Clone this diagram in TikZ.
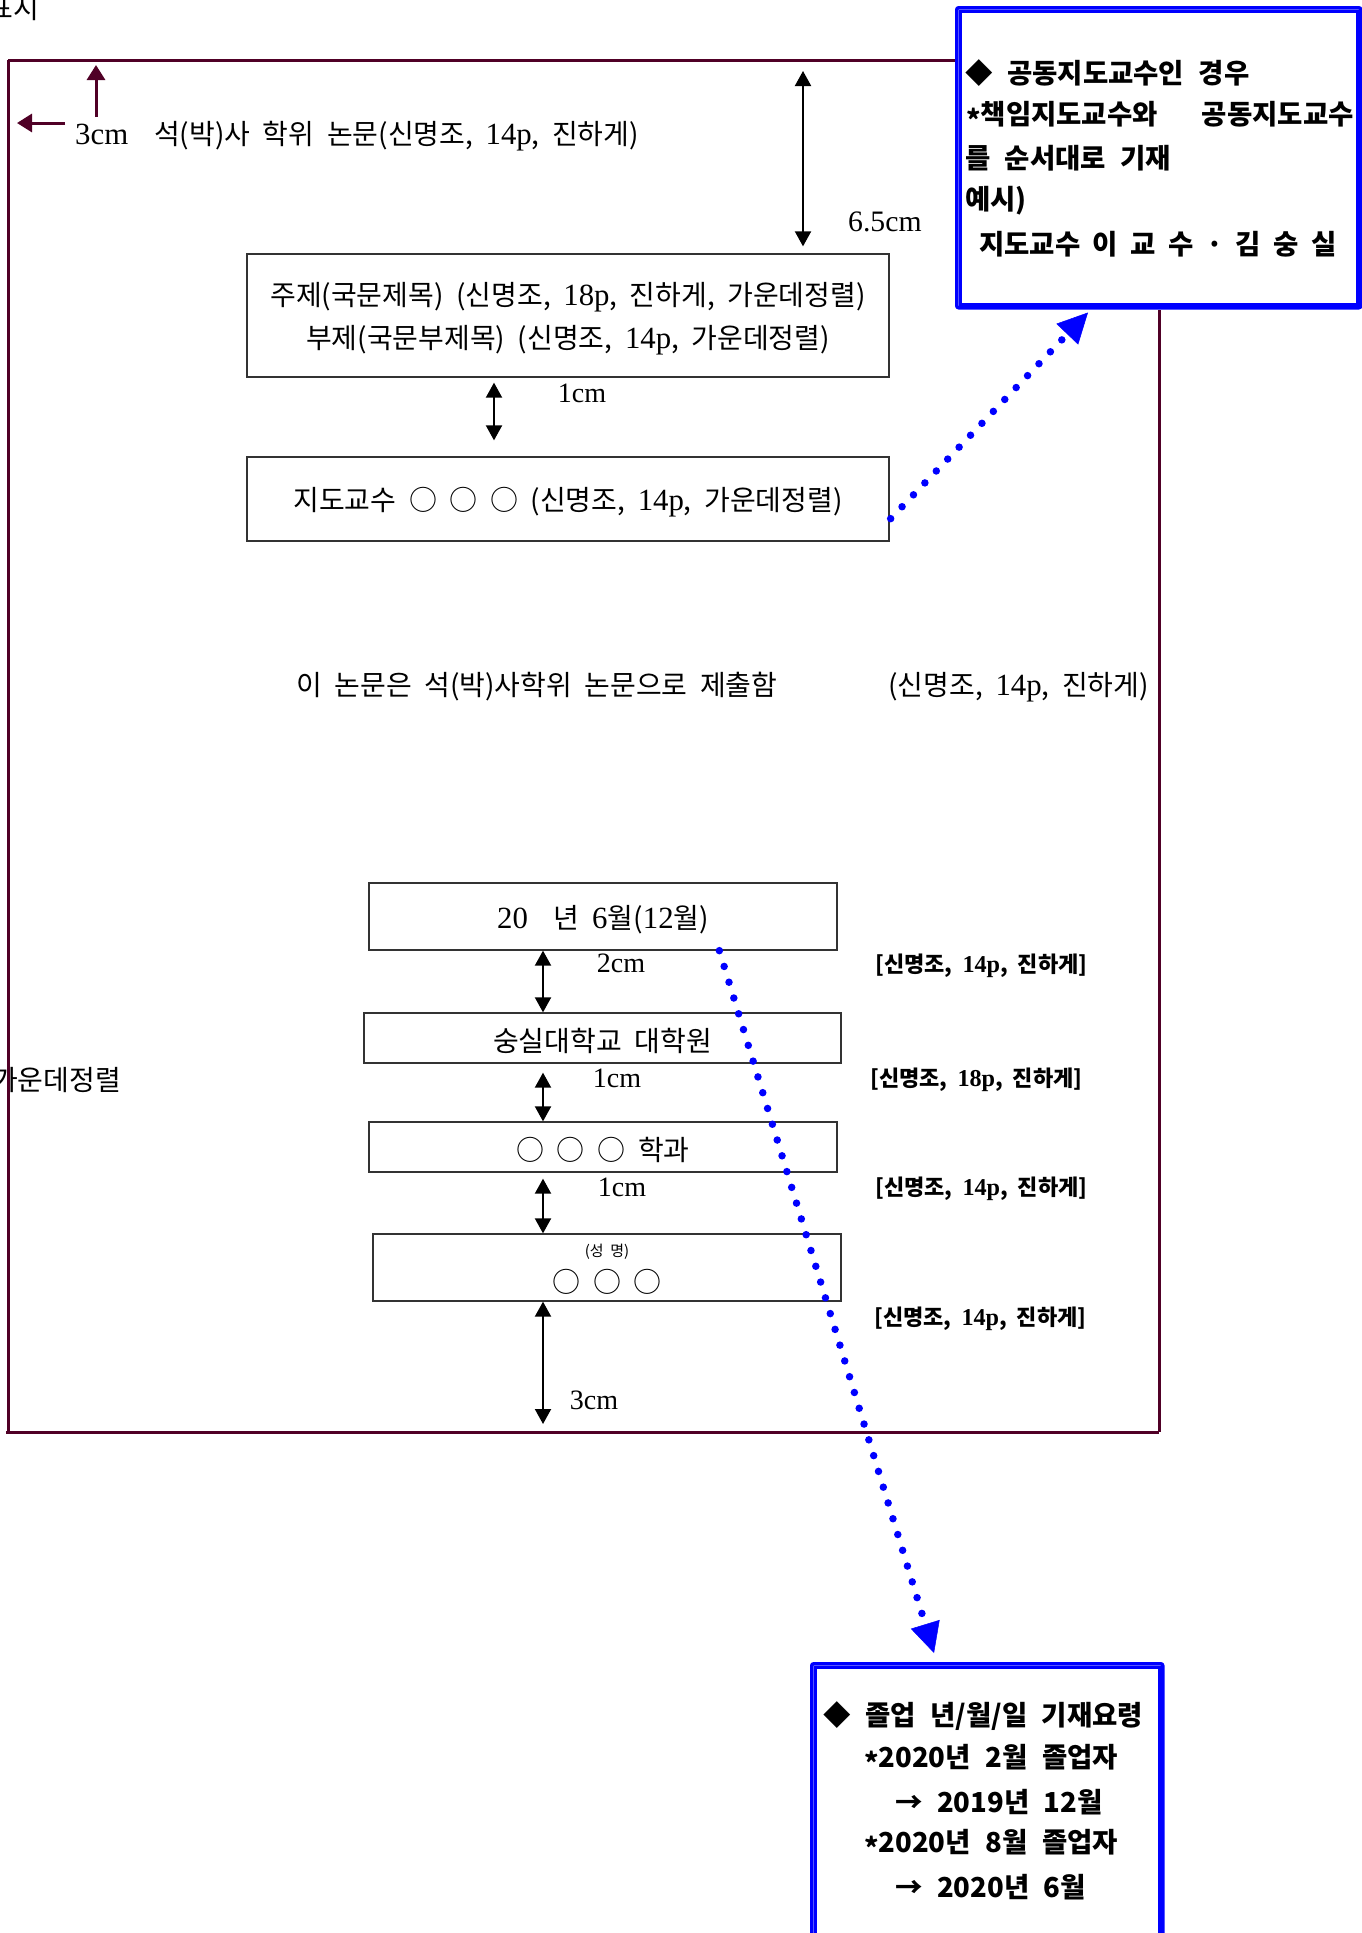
\documentclass[tikz,border=0pt]{standalone}
\usepackage{fontspec}
\setmainfont{Noto Sans CJK KR}[WordSpace=2]
\newfontfamily\bxf{Noto Sans CJK KR}[WordSpace=2.3]
\newfontfamily\lat{Liberation Serif}[Scale=1.1]
\usetikzlibrary{arrows.meta,calc}
\definecolor{framec}{RGB}{80,0,38}
\definecolor{boxblue}{RGB}{0,0,255}
\newcommand{\mt}{\fontsize{28}{43}\selectfont}
\newcommand{\astk}{\raisebox{-0.22em}{*}}
\newcommand{\gp}{\hspace{12.5pt}}
\begin{document}
\begin{tikzpicture}[x=1pt,y=-1pt,
  txt/.style={inner sep=0pt, font=\mt},
  lbl/.style={inner sep=0pt, font=\fontsize{25.5}{30}\selectfont\lat},
  tag/.style={inner sep=0pt, anchor=west, font=\fontsize{22}{26}\selectfont\bfseries},
  pbox/.style={draw=black!80, line width=1.3pt, inner sep=0pt},
  dim/.style={line width=2pt, {Triangle[length=15pt,width=16pt]}-{Triangle[length=15pt,width=16pt]}},
  mar/.style={framec, line width=3pt},
  marrow/.style={framec, line width=3pt, -{Triangle[length=15pt,width=18pt]}},
  dots/.style={boxblue, line width=7.5pt, dash pattern=on 0pt off 16.5pt, line cap=round, -{Triangle[length=30pt,width=30pt,line width=0.5pt]}},
  bout/.style={draw=boxblue, line width=3.5pt, rounded corners=2pt, inner sep=0pt},
  bin/.style={draw=boxblue, line width=3pt},
  btxt/.style={inner sep=0pt, anchor=west, font=\fontsize{27.5}{30}\selectfont\bxf\bfseries},
]
\useasboundingbox (0,0) rectangle (1361,1933);

% cut-off texts at the left
\node[txt, anchor=east] (pyo) at (39,8) {표시};
\node[txt, anchor=east] (gu) at (121,1080) {가운데정렬};

% page frame
\coordinate (fTL) at (8,60);
\coordinate (fBL) at (8,1432);
\coordinate (fBR) at (1159,1432);

% blue boxes
\node[bout, minimum width=404pt, minimum height=300pt, anchor=north west] (tbox) at (955,6) {};
\draw[bin] ([xshift=5.5pt,yshift=-5.5pt]tbox.north west) rectangle ([xshift=-5.5pt,yshift=5.5pt]tbox.south east);
\node[bout, minimum width=351pt, minimum height=275pt, anchor=north west] (bbox) at (810,1662) {};
\draw[bin] ([xshift=5.5pt,yshift=-5.5pt]bbox.north west) rectangle ([xshift=-5.5pt,yshift=5.5pt]bbox.south east);

\draw[mar] (fTL) -- (fTL -| tbox.west);
\draw[mar] (fTL) -- (fBL);
\draw[mar] ([xshift=-2pt]fBL) -- (fBR);
\draw[mar] (fBR) -- (fBR |- tbox.south);

% margin arrows
\coordinate (ua1) at (96,117);
\coordinate (ua2) at (96,65);
\coordinate (la1) at (65,123);
\coordinate (la2) at (17,123);
\draw[marrow] (ua1) -- (ua2);
\draw[marrow] (la1) -- (la2);
\node[txt, anchor=west] (top) at (75,136) {{\lat 3cm}\hspace{26pt}석(박)사 학위 논문(신명조, {\lat 14p}, 진하게)};

% title boxes
\node[pbox, minimum width=642pt, minimum height=123pt] (box1) at (568,315.5) {};
\node[txt, align=center] (box1t) at ([yshift=-3pt]box1.center)
  {주제(국문제목) (신명조, {\lat 18p}, 진하게, 가운데정렬)\\부제(국문부제목) (신명조, {\lat 14p}, 가운데정렬)};
\node[pbox, minimum width=642pt, minimum height=84pt] (box2) at (568,499) {};
\node[txt] (box2t) at ([yshift=-3pt]box2.center) {지도교수 ○ ○ ○ (신명조, {\lat 14p}, 가운데정렬)};

\coordinate (c65) at (803,71);
\draw[dim] (c65) -- ([yshift=7pt]box1.north -| c65);
\node[lbl, anchor=west, font=\fontsize{27}{30}\selectfont\lat] (l65) at (848,222) {6.5cm};

\coordinate (bx) at (494,0);
\draw[dim] ([yshift=-5pt]box1.south -| bx) -- ([yshift=16pt]box2.north -| bx);
\node[lbl] (l1a) at (582,393) {1cm};

\node[txt, anchor=west] (sub) at (296,687) {이 논문은 석(박)사학위 논문으로 제출함};
\node[txt, anchor=east] (subf) at (1149,687) {(신명조, {\lat 14p}, 진하게)};

% lower boxes
\node[pbox, minimum width=468pt, minimum height=67pt] (box3) at (603,916.5) {};
\node[txt] (box3t) at ([yshift=-3pt]box3.center) {{\lat 20}\hspace{26pt}년 {\lat 6}월({\lat 12}월)};
\node[pbox, minimum width=477pt, minimum height=50pt] (box4) at (602.5,1038) {};
\node[txt] (box4t) at ([yshift=-3pt]box4.center) {숭실대학교 대학원};
\node[pbox, minimum width=468pt, minimum height=50pt] (box5) at (603,1147) {};
\node[txt] (box5t) at ([yshift=-3pt]box5.center) {○ ○ ○ 학과};
\node[pbox, minimum width=468pt, minimum height=67pt] (box6) at (607,1267.5) {};
\node[inner sep=0pt, font=\fontsize{15}{17}\selectfont] (sm) at ([yshift=16pt]box6.center) {(성 명)};
\node[txt] (nm) at ([yshift=-14pt]box6.center) {○ ○ ○};

\coordinate (ax) at (543,0);
\coordinate (fb) at (543,1424);
\draw[dim] (box3.south -| ax) -- (box4.north -| ax);
\draw[dim] ([yshift=-9pt]box4.south -| ax) -- (box5.north -| ax);
\draw[dim] ([yshift=-6pt]box5.south -| ax) -- (box6.north -| ax);
\draw[dim] (box6.south -| ax) -- (fb);
\node[lbl] (l2) at (621,963) {2cm};
\node[lbl] (l1b) at (617,1078) {1cm};
\node[lbl] (l1c) at (622,1187) {1cm};
\node[lbl] (l3) at (594,1400) {3cm};

\node[tag] (g1) at (875,966) {[신명조, {\lat 14p}, 진하게]};
\node[tag] (g2) at (870,1080) {[신명조, {\lat 18p}, 진하게]};
\node[tag] (g3) at (875,1189) {[신명조, {\lat 14p}, 진하게]};
\node[tag] (g4) at (874,1319) {[신명조, {\lat 14p}, 진하게]};

% blue box texts
\node[btxt] (t1) at (965,73) {◆ 공동지도교수인 경우};
\node[btxt] (t2) at (966,116) {\astk 책임지도교수와\hspace{44pt}공동지도교수};
\node[btxt] (t3) at (965,158) {를 순서대로 기재};
\node[btxt] (t4) at (965,201) {예시)};
\node[btxt] (t5) at (979,244) {지도교수\gp 이\gp 교\gp 수\gp ·\gp 김\gp 숭\gp 실};

\node[btxt] (b1) at (823,1716) {◆ 졸업 년/월/일 기재요령};
\node[btxt] (b2) at (864,1759) {\astk 2020년 2월 졸업자};
\node[btxt] (b3) at (895,1802) {→ 2019년 12월};
\node[btxt] (b4) at (864,1844) {\astk 2020년 8월 졸업자};
\node[btxt] (b5) at (895,1887) {→ 2020년 6월};

% blue dotted pointers
\draw[dots] ([xshift=1pt,yshift=23pt]box2.south east) -- ([xshift=133pt,yshift=-3pt]tbox.south west);
\draw[dots] ([xshift=351pt]box3.south west) -- ([xshift=124pt,yshift=9pt]bbox.north west);
\end{tikzpicture}
\end{document}
